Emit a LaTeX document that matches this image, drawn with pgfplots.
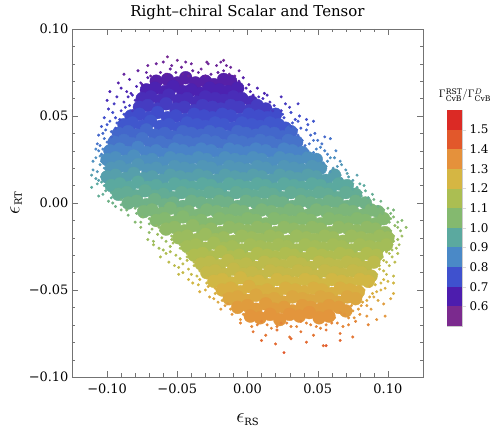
\documentclass[border=0pt]{standalone}
\usepackage{fontspec}
\setmainfont{DejaVu Serif}
\usepackage{amsmath}
\usepackage{pgfplots}
\usepackage{pgfplotstable}
\pgfplotsset{compat=1.18}

\definecolor{b055}{RGB}{123,42,142}
\definecolor{b065}{RGB}{77,29,174}
\definecolor{b075}{RGB}{63,81,206}
\definecolor{b085}{RGB}{74,137,199}
\definecolor{b095}{RGB}{91,169,159}
\definecolor{b105}{RGB}{132,185,111}
\definecolor{b115}{RGB}{171,190,82}
\definecolor{b125}{RGB}{213,182,67}
\definecolor{b135}{RGB}{229,145,59}
\definecolor{b145}{RGB}{226,88,43}
\definecolor{b155}{RGB}{219,42,37}

% dense part of the cloud: x y ratio
\pgfplotstableread{
x y c
-0.065 0.070 0.63
-0.057 0.071 0.63
-0.050 0.069 0.63
-0.044 0.072 0.63
-0.037 0.069 0.63
-0.030 0.070 0.63
-0.024 0.068 0.63
-0.017 0.071 0.63
-0.012 0.070 0.63
-0.072 0.065 0.66
-0.066 0.066 0.66
-0.059 0.064 0.66
-0.053 0.067 0.66
-0.046 0.064 0.66
-0.040 0.065 0.66
-0.033 0.063 0.66
-0.027 0.066 0.66
-0.020 0.065 0.66
-0.014 0.064 0.66
-0.007 0.066 0.66
-0.075 0.060 0.68
-0.069 0.061 0.68
-0.062 0.059 0.68
-0.056 0.062 0.68
-0.049 0.059 0.68
-0.043 0.060 0.68
-0.036 0.058 0.68
-0.030 0.061 0.68
-0.023 0.060 0.68
-0.017 0.059 0.68
-0.010 0.061 0.68
-0.004 0.060 0.68
0.003 0.058 0.68
-0.077 0.055 0.71
-0.071 0.056 0.71
-0.064 0.054 0.71
-0.058 0.057 0.71
-0.051 0.054 0.71
-0.045 0.055 0.71
-0.038 0.053 0.71
-0.032 0.056 0.71
-0.025 0.055 0.71
-0.019 0.054 0.71
-0.012 0.056 0.71
-0.006 0.055 0.71
0.001 0.053 0.71
0.007 0.056 0.71
0.013 0.054 0.71
-0.083 0.050 0.74
-0.077 0.051 0.74
-0.070 0.049 0.74
-0.064 0.052 0.74
-0.057 0.049 0.74
-0.051 0.050 0.74
-0.044 0.048 0.74
-0.038 0.051 0.74
-0.031 0.050 0.74
-0.025 0.049 0.74
-0.018 0.051 0.74
-0.012 0.050 0.74
-0.005 0.048 0.74
0.001 0.051 0.74
0.008 0.050 0.74
0.014 0.049 0.74
0.020 0.051 0.74
-0.088 0.045 0.76
-0.082 0.046 0.76
-0.075 0.044 0.76
-0.069 0.047 0.76
-0.062 0.044 0.76
-0.056 0.045 0.76
-0.049 0.043 0.76
-0.043 0.046 0.76
-0.036 0.045 0.76
-0.030 0.044 0.76
-0.023 0.046 0.76
-0.017 0.045 0.76
-0.010 0.043 0.76
-0.004 0.046 0.76
0.003 0.045 0.76
0.009 0.044 0.76
0.016 0.046 0.76
0.022 0.045 0.76
0.027 0.043 0.76
-0.092 0.040 0.79
-0.085 0.041 0.79
-0.079 0.039 0.79
-0.072 0.042 0.79
-0.066 0.039 0.79
-0.059 0.040 0.79
-0.053 0.038 0.79
-0.046 0.041 0.79
-0.040 0.040 0.79
-0.033 0.039 0.79
-0.027 0.041 0.79
-0.020 0.040 0.79
-0.014 0.038 0.79
-0.007 0.041 0.79
-0.001 0.040 0.79
0.006 0.039 0.79
0.012 0.041 0.79
0.019 0.040 0.79
0.025 0.038 0.79
0.031 0.041 0.79
-0.095 0.035 0.81
-0.088 0.036 0.81
-0.082 0.034 0.81
-0.075 0.037 0.81
-0.069 0.034 0.81
-0.062 0.035 0.81
-0.056 0.033 0.81
-0.049 0.036 0.81
-0.043 0.035 0.81
-0.036 0.034 0.81
-0.030 0.036 0.81
-0.023 0.035 0.81
-0.017 0.033 0.81
-0.010 0.036 0.81
-0.004 0.035 0.81
0.003 0.034 0.81
0.009 0.036 0.81
0.016 0.035 0.81
0.022 0.033 0.81
0.029 0.036 0.81
0.035 0.035 0.81
-0.098 0.030 0.84
-0.091 0.031 0.84
-0.085 0.029 0.84
-0.078 0.032 0.84
-0.072 0.029 0.84
-0.065 0.030 0.84
-0.059 0.028 0.84
-0.052 0.031 0.84
-0.046 0.030 0.84
-0.039 0.029 0.84
-0.033 0.031 0.84
-0.026 0.030 0.84
-0.020 0.028 0.84
-0.013 0.031 0.84
-0.007 0.030 0.84
0.000 0.029 0.84
0.006 0.031 0.84
0.013 0.030 0.84
0.019 0.028 0.84
0.026 0.031 0.84
0.032 0.030 0.84
0.039 0.029 0.84
-0.100 0.025 0.87
-0.094 0.026 0.87
-0.087 0.024 0.87
-0.081 0.027 0.87
-0.074 0.024 0.87
-0.068 0.025 0.87
-0.061 0.023 0.87
-0.055 0.026 0.87
-0.048 0.025 0.87
-0.042 0.024 0.87
-0.035 0.026 0.87
-0.029 0.025 0.87
-0.022 0.023 0.87
-0.016 0.026 0.87
-0.009 0.025 0.87
-0.003 0.024 0.87
0.004 0.026 0.87
0.010 0.025 0.87
0.017 0.023 0.87
0.023 0.026 0.87
0.030 0.025 0.87
0.036 0.024 0.87
0.043 0.026 0.87
0.049 0.025 0.87
-0.097 0.020 0.89
-0.091 0.021 0.89
-0.084 0.019 0.89
-0.078 0.022 0.89
-0.071 0.019 0.89
-0.065 0.020 0.89
-0.058 0.018 0.89
-0.052 0.021 0.89
-0.045 0.020 0.89
-0.039 0.019 0.89
-0.032 0.021 0.89
-0.026 0.020 0.89
-0.019 0.018 0.89
-0.013 0.021 0.89
-0.006 0.020 0.89
0.000 0.019 0.89
0.007 0.021 0.89
0.013 0.020 0.89
0.020 0.018 0.89
0.026 0.021 0.89
0.033 0.020 0.89
0.039 0.019 0.89
0.046 0.021 0.89
0.052 0.020 0.89
-0.100 0.015 0.92
-0.094 0.016 0.92
-0.087 0.014 0.92
-0.081 0.017 0.92
-0.074 0.014 0.92
-0.068 0.015 0.92
-0.061 0.013 0.92
-0.055 0.016 0.92
-0.048 0.015 0.92
-0.042 0.014 0.92
-0.035 0.016 0.92
-0.029 0.015 0.92
-0.022 0.013 0.92
-0.016 0.016 0.92
-0.009 0.015 0.92
-0.003 0.014 0.92
0.004 0.016 0.92
0.010 0.015 0.92
0.017 0.013 0.92
0.023 0.016 0.92
0.030 0.015 0.92
0.036 0.014 0.92
0.043 0.016 0.92
0.049 0.015 0.92
0.056 0.013 0.92
0.062 0.016 0.92
-0.097 0.010 0.95
-0.091 0.011 0.95
-0.084 0.009 0.95
-0.078 0.012 0.95
-0.071 0.009 0.95
-0.065 0.010 0.95
-0.058 0.008 0.95
-0.052 0.011 0.95
-0.045 0.010 0.95
-0.039 0.009 0.95
-0.032 0.011 0.95
-0.026 0.010 0.95
-0.019 0.008 0.95
-0.013 0.011 0.95
-0.006 0.010 0.95
0.000 0.009 0.95
0.007 0.011 0.95
0.013 0.010 0.95
0.020 0.008 0.95
0.026 0.011 0.95
0.033 0.010 0.95
0.039 0.009 0.95
0.046 0.011 0.95
0.052 0.010 0.95
0.059 0.008 0.95
0.065 0.011 0.95
0.071 0.010 0.95
-0.092 0.005 0.97
-0.086 0.006 0.97
-0.079 0.004 0.97
-0.073 0.007 0.97
-0.066 0.004 0.97
-0.060 0.005 0.97
-0.053 0.003 0.97
-0.047 0.006 0.97
-0.040 0.005 0.97
-0.034 0.004 0.97
-0.027 0.006 0.97
-0.021 0.005 0.97
-0.014 0.003 0.97
-0.008 0.006 0.97
-0.001 0.005 0.97
0.005 0.004 0.97
0.012 0.006 0.97
0.018 0.005 0.97
0.025 0.003 0.97
0.031 0.006 0.97
0.038 0.005 0.97
0.044 0.004 0.97
0.051 0.006 0.97
0.057 0.005 0.97
0.064 0.003 0.97
0.070 0.006 0.97
0.077 0.005 0.97
-0.085 0.000 1.00
-0.079 0.001 1.00
-0.072 -0.001 1.00
-0.066 0.002 1.00
-0.059 -0.001 1.00
-0.053 0.000 1.00
-0.046 -0.002 1.00
-0.040 0.001 1.00
-0.033 0.000 1.00
-0.027 -0.001 1.00
-0.020 0.001 1.00
-0.014 0.000 1.00
-0.007 -0.002 1.00
-0.001 0.001 1.00
0.006 0.000 1.00
0.012 -0.001 1.00
0.019 0.001 1.00
0.025 0.000 1.00
0.032 -0.002 1.00
0.038 0.001 1.00
0.045 0.000 1.00
0.051 -0.001 1.00
0.058 0.001 1.00
0.064 0.000 1.00
0.071 -0.002 1.00
0.077 0.001 1.00
0.084 0.000 1.00
-0.074 -0.005 1.03
-0.068 -0.004 1.03
-0.061 -0.006 1.03
-0.055 -0.003 1.03
-0.048 -0.006 1.03
-0.042 -0.005 1.03
-0.035 -0.007 1.03
-0.029 -0.004 1.03
-0.022 -0.005 1.03
-0.016 -0.006 1.03
-0.009 -0.004 1.03
-0.003 -0.005 1.03
0.004 -0.007 1.03
0.010 -0.004 1.03
0.017 -0.005 1.03
0.023 -0.006 1.03
0.030 -0.004 1.03
0.036 -0.005 1.03
0.043 -0.007 1.03
0.049 -0.004 1.03
0.056 -0.005 1.03
0.062 -0.006 1.03
0.069 -0.004 1.03
0.075 -0.005 1.03
0.082 -0.007 1.03
0.088 -0.004 1.03
0.093 -0.005 1.03
-0.065 -0.010 1.05
-0.059 -0.009 1.05
-0.052 -0.011 1.05
-0.046 -0.008 1.05
-0.039 -0.011 1.05
-0.033 -0.010 1.05
-0.026 -0.012 1.05
-0.020 -0.009 1.05
-0.013 -0.010 1.05
-0.007 -0.011 1.05
0.000 -0.009 1.05
0.006 -0.010 1.05
0.013 -0.012 1.05
0.019 -0.009 1.05
0.026 -0.010 1.05
0.032 -0.011 1.05
0.039 -0.009 1.05
0.045 -0.010 1.05
0.052 -0.012 1.05
0.058 -0.009 1.05
0.065 -0.010 1.05
0.071 -0.011 1.05
0.078 -0.009 1.05
0.084 -0.010 1.05
0.091 -0.012 1.05
0.097 -0.009 1.05
-0.058 -0.015 1.08
-0.052 -0.014 1.08
-0.045 -0.016 1.08
-0.039 -0.013 1.08
-0.032 -0.016 1.08
-0.026 -0.015 1.08
-0.019 -0.017 1.08
-0.013 -0.014 1.08
-0.006 -0.015 1.08
0.000 -0.016 1.08
0.007 -0.014 1.08
0.013 -0.015 1.08
0.020 -0.017 1.08
0.026 -0.014 1.08
0.033 -0.015 1.08
0.039 -0.016 1.08
0.046 -0.014 1.08
0.052 -0.015 1.08
0.059 -0.017 1.08
0.065 -0.014 1.08
0.072 -0.015 1.08
0.078 -0.016 1.08
0.085 -0.014 1.08
0.091 -0.015 1.08
0.098 -0.017 1.08
-0.049 -0.020 1.11
-0.043 -0.019 1.11
-0.036 -0.021 1.11
-0.030 -0.018 1.11
-0.023 -0.021 1.11
-0.017 -0.020 1.11
-0.010 -0.022 1.11
-0.004 -0.019 1.11
0.003 -0.020 1.11
0.009 -0.021 1.11
0.016 -0.019 1.11
0.022 -0.020 1.11
0.029 -0.022 1.11
0.035 -0.019 1.11
0.042 -0.020 1.11
0.048 -0.021 1.11
0.055 -0.019 1.11
0.061 -0.020 1.11
0.068 -0.022 1.11
0.074 -0.019 1.11
0.081 -0.020 1.11
0.087 -0.021 1.11
0.094 -0.019 1.11
0.100 -0.020 1.11
-0.043 -0.025 1.13
-0.037 -0.024 1.13
-0.030 -0.026 1.13
-0.024 -0.023 1.13
-0.017 -0.026 1.13
-0.011 -0.025 1.13
-0.004 -0.027 1.13
0.002 -0.024 1.13
0.009 -0.025 1.13
0.015 -0.026 1.13
0.022 -0.024 1.13
0.028 -0.025 1.13
0.035 -0.027 1.13
0.041 -0.024 1.13
0.048 -0.025 1.13
0.054 -0.026 1.13
0.061 -0.024 1.13
0.067 -0.025 1.13
0.074 -0.027 1.13
0.080 -0.024 1.13
0.087 -0.025 1.13
0.093 -0.026 1.13
0.099 -0.024 1.13
-0.038 -0.030 1.16
-0.032 -0.029 1.16
-0.025 -0.031 1.16
-0.019 -0.028 1.16
-0.012 -0.031 1.16
-0.006 -0.030 1.16
0.001 -0.032 1.16
0.007 -0.029 1.16
0.014 -0.030 1.16
0.020 -0.031 1.16
0.027 -0.029 1.16
0.033 -0.030 1.16
0.040 -0.032 1.16
0.046 -0.029 1.16
0.053 -0.030 1.16
0.059 -0.031 1.16
0.066 -0.029 1.16
0.072 -0.030 1.16
0.079 -0.032 1.16
0.085 -0.029 1.16
0.092 -0.030 1.16
-0.033 -0.035 1.19
-0.027 -0.034 1.19
-0.020 -0.036 1.19
-0.014 -0.033 1.19
-0.007 -0.036 1.19
-0.001 -0.035 1.19
0.006 -0.037 1.19
0.012 -0.034 1.19
0.019 -0.035 1.19
0.025 -0.036 1.19
0.032 -0.034 1.19
0.038 -0.035 1.19
0.045 -0.037 1.19
0.051 -0.034 1.19
0.058 -0.035 1.19
0.064 -0.036 1.19
0.071 -0.034 1.19
0.077 -0.035 1.19
0.084 -0.037 1.19
0.090 -0.034 1.19
-0.029 -0.040 1.21
-0.023 -0.039 1.21
-0.016 -0.041 1.21
-0.010 -0.038 1.21
-0.003 -0.041 1.21
0.003 -0.040 1.21
0.010 -0.042 1.21
0.016 -0.039 1.21
0.023 -0.040 1.21
0.029 -0.041 1.21
0.036 -0.039 1.21
0.042 -0.040 1.21
0.049 -0.042 1.21
0.055 -0.039 1.21
0.062 -0.040 1.21
0.068 -0.041 1.21
0.075 -0.039 1.21
0.081 -0.040 1.21
0.088 -0.042 1.21
-0.024 -0.045 1.24
-0.018 -0.044 1.24
-0.011 -0.046 1.24
-0.005 -0.043 1.24
0.002 -0.046 1.24
0.008 -0.045 1.24
0.015 -0.047 1.24
0.021 -0.044 1.24
0.028 -0.045 1.24
0.034 -0.046 1.24
0.041 -0.044 1.24
0.047 -0.045 1.24
0.054 -0.047 1.24
0.060 -0.044 1.24
0.067 -0.045 1.24
0.073 -0.046 1.24
0.080 -0.044 1.24
0.086 -0.045 1.24
-0.018 -0.050 1.27
-0.012 -0.049 1.27
-0.005 -0.051 1.27
0.001 -0.048 1.27
0.008 -0.051 1.27
0.014 -0.050 1.27
0.021 -0.052 1.27
0.027 -0.049 1.27
0.034 -0.050 1.27
0.040 -0.051 1.27
0.047 -0.049 1.27
0.053 -0.050 1.27
0.060 -0.052 1.27
0.066 -0.049 1.27
0.073 -0.050 1.27
0.079 -0.051 1.27
-0.013 -0.055 1.29
-0.007 -0.054 1.29
0.000 -0.056 1.29
0.006 -0.053 1.29
0.013 -0.056 1.29
0.019 -0.055 1.29
0.026 -0.057 1.29
0.032 -0.054 1.29
0.039 -0.055 1.29
0.045 -0.056 1.29
0.052 -0.054 1.29
0.058 -0.055 1.29
0.065 -0.057 1.29
0.071 -0.054 1.29
0.077 -0.055 1.29
-0.007 -0.060 1.32
0.000 -0.059 1.32
0.006 -0.061 1.32
0.013 -0.058 1.32
0.019 -0.061 1.32
0.026 -0.060 1.32
0.032 -0.062 1.32
0.039 -0.059 1.32
0.045 -0.060 1.32
0.052 -0.061 1.32
0.058 -0.059 1.32
0.065 -0.060 1.32
0.070 -0.062 1.32
0.002 -0.065 1.34
0.009 -0.066 1.34
0.016 -0.064 1.34
0.023 -0.067 1.34
0.030 -0.064 1.34
0.037 -0.065 1.34
0.044 -0.063 1.34
0.051 -0.066 1.34
0.058 -0.065 1.34
}\core

% sparse outskirts of the cloud
\pgfplotstableread{
x y c
-0.057 0.084 0.56
-0.050 0.082 0.57
-0.029 0.081 0.57
-0.017 0.082 0.57
-0.015 0.079 0.58
-0.071 0.079 0.58
-0.065 0.080 0.58
-0.060 0.081 0.58
-0.054 0.079 0.58
-0.047 0.078 0.58
-0.044 0.081 0.58
-0.040 0.080 0.58
-0.033 0.077 0.58
-0.028 0.080 0.58
-0.022 0.079 0.58
-0.019 0.081 0.58
-0.012 0.078 0.58
-0.088 0.074 0.60
-0.078 0.076 0.60
-0.072 0.075 0.60
-0.069 0.073 0.60
-0.062 0.075 0.60
-0.058 0.074 0.60
-0.055 0.077 0.60
-0.051 0.075 0.60
-0.046 0.074 0.60
-0.042 0.073 0.60
-0.039 0.076 0.60
-0.035 0.075 0.60
-0.030 0.073 0.60
-0.026 0.074 0.60
-0.021 0.075 0.60
-0.017 0.076 0.60
-0.013 0.074 0.60
-0.009 0.073 0.60
-0.006 0.076 0.60
-0.092 0.069 0.63
-0.084 0.071 0.63
-0.076 0.069 0.63
-0.071 0.072 0.63
-0.075 0.068 0.63
-0.006 0.070 0.63
-0.003 0.072 0.63
0.001 0.068 0.63
-0.098 0.064 0.66
-0.090 0.066 0.66
-0.086 0.064 0.66
-0.083 0.063 0.66
-0.079 0.067 0.66
-0.001 0.066 0.66
0.002 0.064 0.66
0.004 0.062 0.66
0.007 0.066 0.66
0.012 0.063 0.66
-0.100 0.059 0.68
-0.093 0.061 0.68
-0.088 0.058 0.68
-0.085 0.061 0.68
-0.082 0.062 0.68
-0.080 0.059 0.68
0.008 0.061 0.68
0.011 0.060 0.68
0.014 0.062 0.68
0.016 0.058 0.68
0.024 0.061 0.68
-0.099 0.054 0.71
-0.095 0.057 0.71
-0.090 0.053 0.71
-0.087 0.055 0.71
-0.084 0.056 0.71
-0.082 0.053 0.71
0.018 0.053 0.71
0.019 0.056 0.71
0.024 0.053 0.71
0.027 0.057 0.71
0.030 0.055 0.71
0.036 0.057 0.71
-0.102 0.049 0.74
-0.096 0.052 0.74
-0.094 0.049 0.74
-0.091 0.048 0.74
-0.088 0.051 0.74
0.025 0.051 0.74
0.026 0.049 0.74
0.031 0.052 0.74
0.034 0.048 0.74
0.037 0.050 0.74
0.042 0.048 0.74
-0.104 0.044 0.76
-0.100 0.045 0.76
-0.098 0.047 0.76
-0.094 0.043 0.76
-0.093 0.046 0.76
0.031 0.044 0.76
0.032 0.046 0.76
0.036 0.047 0.76
0.038 0.043 0.76
0.043 0.045 0.76
0.047 0.047 0.76
-0.106 0.039 0.79
-0.103 0.040 0.79
-0.101 0.042 0.79
-0.097 0.038 0.79
-0.097 0.041 0.79
0.035 0.042 0.79
0.036 0.039 0.79
0.042 0.042 0.79
0.045 0.039 0.79
0.048 0.040 0.79
0.055 0.038 0.79
-0.107 0.034 0.81
-0.105 0.033 0.81
-0.102 0.037 0.81
-0.100 0.035 0.81
0.039 0.036 0.81
0.041 0.033 0.81
0.044 0.034 0.81
0.047 0.036 0.81
0.050 0.036 0.81
0.053 0.034 0.81
0.059 0.037 0.81
-0.108 0.031 0.84
-0.106 0.030 0.84
-0.104 0.028 0.84
-0.103 0.031 0.84
0.043 0.030 0.84
0.047 0.029 0.84
0.049 0.031 0.84
0.052 0.032 0.84
0.055 0.030 0.84
0.057 0.028 0.84
0.063 0.030 0.84
-0.110 0.024 0.87
-0.108 0.026 0.87
-0.105 0.027 0.87
-0.104 0.024 0.87
0.052 0.026 0.87
0.054 0.023 0.87
0.057 0.024 0.87
0.059 0.026 0.87
0.062 0.026 0.87
0.066 0.024 0.87
-0.110 0.019 0.89
-0.107 0.018 0.89
-0.105 0.022 0.89
-0.102 0.020 0.89
0.056 0.021 0.89
0.059 0.018 0.89
0.061 0.020 0.89
0.064 0.021 0.89
0.067 0.022 0.89
0.070 0.019 0.89
-0.111 0.016 0.92
-0.108 0.014 0.92
-0.106 0.013 0.92
-0.104 0.015 0.92
0.066 0.016 0.92
0.067 0.014 0.92
0.071 0.017 0.92
0.072 0.015 0.92
0.075 0.013 0.92
0.078 0.016 0.92
-0.111 0.009 0.95
-0.107 0.011 0.95
-0.104 0.012 0.95
-0.102 0.010 0.95
0.075 0.008 0.95
0.075 0.011 0.95
0.078 0.009 0.95
0.080 0.011 0.95
0.083 0.010 0.95
-0.106 0.004 0.97
-0.103 0.005 0.97
-0.101 0.007 0.97
-0.097 0.003 0.97
-0.097 0.006 0.97
0.081 0.004 0.97
0.081 0.006 0.97
0.084 0.007 0.97
0.086 0.003 0.97
0.089 0.005 0.97
-0.099 0.001 1.00
-0.096 0.000 1.00
-0.094 -0.002 1.00
-0.090 0.002 1.00
-0.090 -0.001 1.00
0.087 0.001 1.00
0.088 -0.001 1.00
0.090 0.002 1.00
0.093 -0.002 1.00
0.095 0.001 1.00
-0.090 -0.004 1.03
-0.086 -0.004 1.03
-0.085 -0.007 1.03
-0.080 -0.003 1.03
-0.079 -0.006 1.03
0.096 -0.006 1.03
0.097 -0.004 1.03
0.100 -0.003 1.03
0.102 -0.006 1.03
0.104 -0.004 1.03
-0.080 -0.011 1.05
-0.076 -0.011 1.05
-0.075 -0.008 1.05
-0.070 -0.012 1.05
-0.070 -0.009 1.05
0.101 -0.011 1.05
0.102 -0.009 1.05
0.104 -0.008 1.05
0.107 -0.011 1.05
0.110 -0.010 1.05
-0.076 -0.014 1.08
-0.070 -0.017 1.08
-0.068 -0.015 1.08
-0.065 -0.013 1.08
-0.063 -0.014 1.08
-0.062 -0.016 1.08
0.102 -0.016 1.08
0.105 -0.013 1.08
0.107 -0.014 1.08
0.109 -0.016 1.08
0.113 -0.014 1.08
-0.071 -0.021 1.11
-0.067 -0.022 1.11
-0.064 -0.018 1.11
-0.061 -0.020 1.11
-0.058 -0.022 1.11
-0.054 -0.019 1.11
-0.054 -0.021 1.11
0.104 -0.022 1.11
0.104 -0.019 1.11
0.107 -0.021 1.11
0.110 -0.019 1.11
-0.067 -0.024 1.13
-0.063 -0.026 1.13
-0.060 -0.027 1.13
-0.055 -0.025 1.13
-0.053 -0.023 1.13
-0.048 -0.026 1.13
-0.048 -0.024 1.13
0.103 -0.027 1.13
0.103 -0.024 1.13
0.106 -0.026 1.13
0.108 -0.024 1.13
-0.062 -0.031 1.16
-0.058 -0.029 1.16
-0.055 -0.028 1.16
-0.051 -0.030 1.16
-0.048 -0.032 1.16
-0.043 -0.029 1.16
-0.043 -0.031 1.16
0.096 -0.031 1.16
0.099 -0.028 1.16
0.101 -0.029 1.16
0.103 -0.031 1.16
0.107 -0.029 1.16
-0.056 -0.034 1.19
-0.052 -0.036 1.19
-0.049 -0.037 1.19
-0.046 -0.035 1.19
-0.043 -0.033 1.19
-0.038 -0.036 1.19
-0.038 -0.034 1.19
0.094 -0.036 1.19
0.097 -0.033 1.19
0.099 -0.034 1.19
0.101 -0.036 1.19
0.105 -0.034 1.19
-0.049 -0.041 1.21
-0.046 -0.040 1.21
-0.042 -0.038 1.21
-0.040 -0.041 1.21
-0.036 -0.042 1.21
-0.034 -0.039 1.21
0.092 -0.041 1.21
0.094 -0.038 1.21
0.097 -0.039 1.21
0.099 -0.041 1.21
0.104 -0.042 1.21
-0.042 -0.044 1.24
-0.039 -0.046 1.24
-0.035 -0.047 1.24
-0.034 -0.044 1.24
-0.029 -0.043 1.24
-0.029 -0.046 1.24
0.090 -0.044 1.24
0.091 -0.047 1.24
0.095 -0.046 1.24
0.097 -0.044 1.24
0.100 -0.045 1.24
0.104 -0.046 1.24
-0.034 -0.051 1.27
-0.030 -0.050 1.27
-0.028 -0.048 1.27
-0.023 -0.052 1.27
-0.023 -0.049 1.27
0.083 -0.050 1.27
0.087 -0.048 1.27
0.089 -0.052 1.27
0.092 -0.051 1.27
0.095 -0.050 1.27
0.098 -0.049 1.27
0.104 -0.052 1.27
-0.027 -0.054 1.29
-0.024 -0.055 1.29
-0.021 -0.057 1.29
-0.018 -0.056 1.29
-0.017 -0.053 1.29
0.081 -0.054 1.29
0.082 -0.057 1.29
0.085 -0.056 1.29
0.087 -0.054 1.29
0.090 -0.054 1.29
0.093 -0.056 1.29
0.102 -0.055 1.29
-0.019 -0.061 1.32
-0.016 -0.059 1.32
-0.014 -0.058 1.32
-0.012 -0.061 1.32
0.074 -0.059 1.32
0.075 -0.062 1.32
0.079 -0.061 1.32
0.081 -0.059 1.32
0.085 -0.059 1.32
0.088 -0.061 1.32
0.097 -0.058 1.32
-0.011 -0.064 1.34
-0.005 -0.067 1.34
-0.003 -0.064 1.34
0.062 -0.066 1.34
0.066 -0.063 1.34
0.069 -0.064 1.34
0.072 -0.066 1.34
0.076 -0.066 1.34
0.080 -0.064 1.34
0.085 -0.065 1.34
0.092 -0.067 1.34
0.098 -0.065 1.34
-0.005 -0.069 1.37
0.003 -0.071 1.37
0.007 -0.070 1.37
0.010 -0.068 1.37
0.014 -0.070 1.37
0.017 -0.072 1.37
0.021 -0.071 1.37
0.024 -0.069 1.37
0.028 -0.069 1.37
0.031 -0.071 1.37
0.035 -0.071 1.37
0.038 -0.068 1.37
0.042 -0.069 1.37
0.045 -0.070 1.37
0.049 -0.071 1.37
0.052 -0.072 1.37
0.056 -0.070 1.37
0.060 -0.069 1.37
0.064 -0.069 1.37
0.068 -0.071 1.37
0.072 -0.070 1.37
0.077 -0.068 1.37
0.086 -0.070 1.37
0.004 -0.074 1.40
0.013 -0.076 1.40
0.021 -0.073 1.40
0.030 -0.077 1.40
0.038 -0.074 1.40
0.047 -0.076 1.40
0.056 -0.073 1.40
0.066 -0.075 1.40
0.075 -0.077 1.40
0.010 -0.079 1.42
0.020 -0.081 1.42
0.031 -0.078 1.42
0.042 -0.080 1.42
0.054 -0.082 1.42
0.066 -0.079 1.42
0.026 -0.086 1.45
0.056 -0.082 1.45
}\fringe

\begin{document}
\begin{tikzpicture}
\useasboundingbox (-72bp,-52bp) rectangle (426bp,377bp);
\begin{axis}[
    scale only axis, width=351bp, height=348bp,
    xmin=-0.125, xmax=0.125, ymin=-0.1, ymax=0.1,
    xtick={-0.1,-0.05,0,0.05,0.1},
    xticklabels={−0.10,−0.05,0.00,0.05,0.10},
    ytick={-0.1,-0.05,0,0.05,0.1},
    yticklabels={−0.10,−0.05,0.00,0.05,0.10},
    minor x tick num=4, minor y tick num=4,
    tick align=inside, major tick length=6bp, minor tick length=3.5bp,
    axis line style={black!55}, tick style={black!55},
    ticklabel style={font=\fontsize{13}{15}\selectfont},
    xticklabel style={yshift=-3bp},
    title={Right–chiral Scalar and Tensor},
    every axis title shift=0pt,
    title style={at={(axis description cs:0.5,1.035)}, anchor=base, font=\fontsize{15}{18}\selectfont},
    xlabel={{\fontsize{20}{22}\selectfont$\epsilon$}\raisebox{-2.5bp}{\fontsize{10}{12}\selectfont RS}},
    xlabel style={at={(axis description cs:0.5,-0.132)}, anchor=base},
    ylabel={{\fontsize{20}{22}\selectfont$\epsilon$}\raisebox{-2.5bp}{\fontsize{10}{12}\selectfont RT}},
    ylabel style={at={(axis description cs:-0.150,0.5)}, anchor=base},
    colormap={rb}{
        rgb255(0cm)=(123,42,142) rgb255(0.5cm)=(123,42,142)
        rgb255(1.5cm)=(77,29,174) rgb255(2.5cm)=(63,81,206)
        rgb255(3.5cm)=(74,137,199) rgb255(4.5cm)=(91,169,159)
        rgb255(5.5cm)=(132,185,111) rgb255(6.5cm)=(171,190,82)
        rgb255(7.5cm)=(213,182,67) rgb255(8.5cm)=(229,145,59)
        rgb255(9.5cm)=(226,88,43) rgb255(10.5cm)=(219,42,37)
        rgb255(11cm)=(219,42,37)},
    point meta min=0.5, point meta max=1.6,
]
\addplot[scatter, only marks, mark=*, mark size=6.4bp, point meta=explicit,
    scatter/use mapped color={draw=mapped color, fill=mapped color}]
    table[x=x, y=y, meta=c] {\core};
\addplot[scatter, only marks, mark=*, mark size=1.3bp, point meta=explicit,
    scatter/use mapped color={draw=mapped color, fill=mapped color}]
    table[x=x, y=y, meta=c] {\fringe};
\end{axis}

% stepped legend bar
\begin{axis}[
    at={(375bp,51bp)}, anchor=south west,
    scale only axis, width=15bp, height=216bp,
    xmin=0, xmax=1, ymin=0.5, ymax=1.6,
    xtick=\empty,
    ytick={0.6,0.7,0.8,0.9,1.0,1.1,1.2,1.3,1.4,1.5},
    yticklabels={0.6,0.7,0.8,0.9,1.0,1.1,1.2,1.3,1.4,1.5},
    ytick pos=right, yticklabel pos=right,
    tick align=outside, major tick length=4bp,
    ytick style={black!15}, axis line style={black!20},
    yticklabel style={font=\fontsize{12}{14}\selectfont},
]
\addplot[draw=none, fill=b055] coordinates {(0,0.5) (1,0.5) (1,0.6) (0,0.6)} -- cycle;
\addplot[draw=none, fill=b065] coordinates {(0,0.6) (1,0.6) (1,0.7) (0,0.7)} -- cycle;
\addplot[draw=none, fill=b075] coordinates {(0,0.7) (1,0.7) (1,0.8) (0,0.8)} -- cycle;
\addplot[draw=none, fill=b085] coordinates {(0,0.8) (1,0.8) (1,0.9) (0,0.9)} -- cycle;
\addplot[draw=none, fill=b095] coordinates {(0,0.9) (1,0.9) (1,1.0) (0,1.0)} -- cycle;
\addplot[draw=none, fill=b105] coordinates {(0,1.0) (1,1.0) (1,1.1) (0,1.1)} -- cycle;
\addplot[draw=none, fill=b115] coordinates {(0,1.1) (1,1.1) (1,1.2) (0,1.2)} -- cycle;
\addplot[draw=none, fill=b125] coordinates {(0,1.2) (1,1.2) (1,1.3) (0,1.3)} -- cycle;
\addplot[draw=none, fill=b135] coordinates {(0,1.3) (1,1.3) (1,1.4) (0,1.4)} -- cycle;
\addplot[draw=none, fill=b145] coordinates {(0,1.4) (1,1.4) (1,1.5) (0,1.5)} -- cycle;
\addplot[draw=none, fill=b155] coordinates {(0,1.5) (1,1.5) (1,1.6) (0,1.6)} -- cycle;
\end{axis}
\node[font=\fontsize{11}{13}\selectfont] at (393bp,282bp)
    {$\Gamma^{\text{RST}}_{\text{CvB}}/\Gamma^{D}_{\text{CvB}}$};
\end{tikzpicture}
\end{document}
